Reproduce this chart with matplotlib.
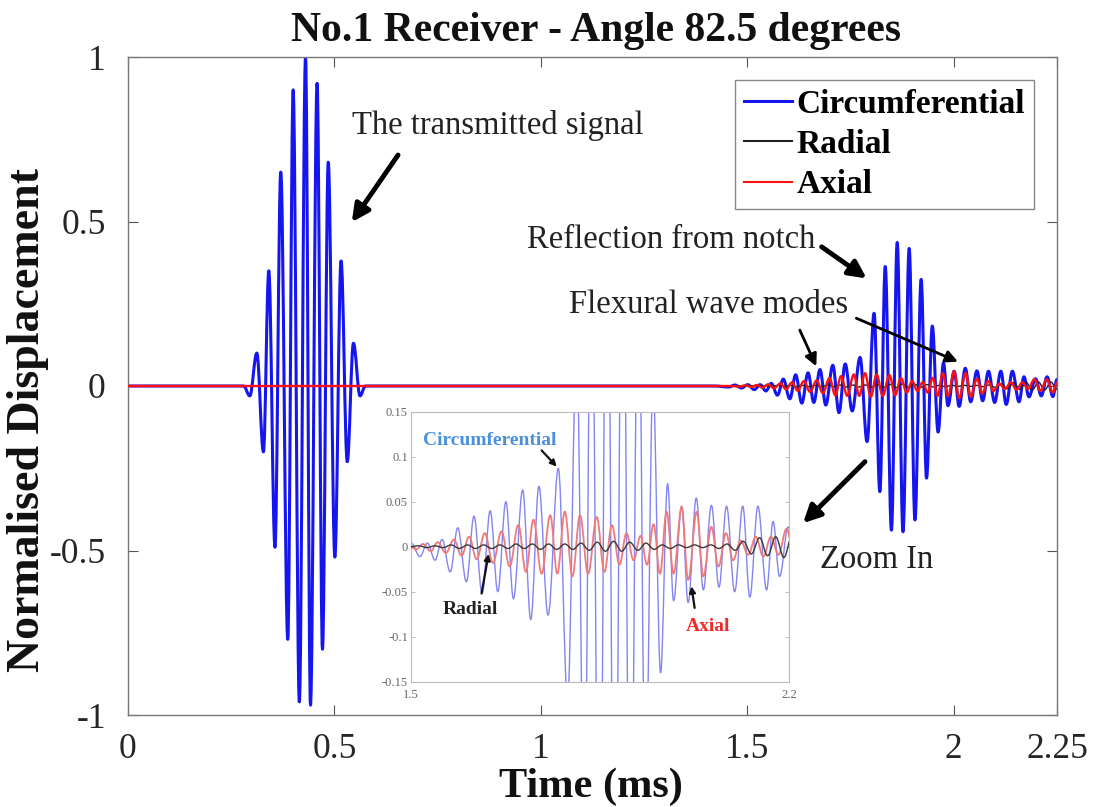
import matplotlib
matplotlib.use("Agg")
import matplotlib.pyplot as plt
from matplotlib.path import Path
from matplotlib.patches import PathPatch
from matplotlib.lines import Line2D

plt.rcParams['font.family'] = ['Liberation Serif', 'DejaVu Serif']

# ---------------- data (extremes of each trace) -------------
t_circ = [0.0, 0.280, 0.295, 0.312, 0.328, 0.341, 0.356, 0.370, 0.387, 0.400, 0.415,
          0.430, 0.442, 0.458, 0.471, 0.485, 0.501, 0.516, 0.531, 0.546, 0.562, 0.575,
          1.420, 1.455, 1.470, 1.486, 1.501, 1.517, 1.531, 1.545, 1.558, 1.573,
          1.587, 1.603, 1.617, 1.632, 1.647, 1.661, 1.676, 1.690, 1.707, 1.722,
          1.737, 1.754, 1.773, 1.790, 1.807, 1.821, 1.834, 1.849, 1.863, 1.877,
          1.892, 1.906, 1.921, 1.934, 1.948, 1.962, 1.975, 1.986, 2.001, 2.013,
          2.028, 2.041, 2.056, 2.070, 2.084, 2.099, 2.114, 2.127, 2.142, 2.158,
          2.170, 2.182, 2.198, 2.212, 2.226, 2.240, 2.250]
v_circ = [0, 0, -0.03, 0.10, -0.20, 0.35, -0.49, 0.65, -0.77, 0.90, -0.96,
          1.00, -0.97, 0.92, -0.80, 0.68, -0.52, 0.38, -0.23, 0.13, -0.03, 0,
          0, -0.003, 0.003, -0.006, 0.004, -0.011, 0.004, -0.015, 0.008, -0.028,
          0.021, -0.039, 0.034, -0.052, 0.040, -0.050, 0.050, -0.058, 0.063, -0.081,
          0.067, -0.076, 0.087, -0.169, 0.221, -0.321, 0.363, -0.438, 0.436, -0.443,
          0.418, -0.407, 0.324, -0.280, 0.182, -0.140, 0.070, -0.060, 0.045, -0.062,
          0.054, -0.048, 0.046, -0.045, 0.045, -0.050, 0.045, -0.056, 0.045, -0.048,
          0.028, -0.033, 0.022, -0.030, 0.028, -0.032, 0.020]

t_axial = [0.0, 1.460, 1.480, 1.495, 1.510, 1.523, 1.537, 1.550, 1.565, 1.580,
           1.594, 1.608, 1.622, 1.637, 1.652, 1.668, 1.683, 1.699, 1.713, 1.727,
           1.742, 1.758, 1.771, 1.785, 1.799, 1.813, 1.828, 1.844, 1.858, 1.872,
           1.886, 1.899, 1.912, 1.925, 1.937, 1.949, 1.961, 1.973, 1.986, 2.001,
           2.013, 2.029, 2.041, 2.056, 2.069, 2.083, 2.096, 2.110, 2.124, 2.138,
           2.152, 2.166, 2.180, 2.195, 2.210, 2.225, 2.240, 2.250]
v_axial = [0, 0, -0.002, 0.002, -0.003, 0.003, -0.005, 0.005, -0.007, 0.008,
           -0.010, 0.011, -0.014, 0.015, -0.018, 0.017, -0.022, 0.024, -0.028, 0.030,
           -0.030, 0.035, -0.030, 0.039, -0.033, 0.035, -0.030, 0.033, -0.028, 0.024,
           -0.020, 0.015, -0.015, 0.012, -0.020, 0.025, -0.030, 0.039, -0.030, 0.044,
           -0.037, 0.039, -0.033, 0.022, -0.022, 0.015, -0.015, 0.007, -0.009, 0.011,
           -0.011, 0.011, -0.009, 0.020, -0.015, 0.020, -0.020, 0.010]

t_radial = [0.0, 1.500, 1.515, 1.530, 1.545, 1.560, 1.575, 1.590, 1.605, 1.620,
            1.635, 1.650, 1.665, 1.680, 1.695, 1.710, 1.725, 1.740, 1.755, 1.770,
            1.785, 1.800, 1.815, 1.830, 1.845, 1.860, 1.875, 1.890, 1.905, 1.920,
            1.935, 1.950, 1.965, 1.980, 1.995, 2.010, 2.025, 2.040, 2.055, 2.070,
            2.085, 2.100, 2.115, 2.130, 2.145, 2.160, 2.175, 2.190, 2.205, 2.220,
            2.235, 2.250]
v_radial = [0, 0, 0.001, -0.001, 0.001, -0.001, 0.002, -0.002, 0.002, -0.002,
            0.002, -0.002, 0.002, -0.002, 0.003, -0.002, 0.003, -0.003, 0.003, -0.003,
            0.003, -0.003, 0.004, -0.004, 0.005, -0.005, 0.006, -0.005, 0.005, -0.004,
            0.004, -0.003, 0.002, -0.002, 0.002, -0.001, 0.002, -0.001, 0.002, -0.002,
            0.003, -0.004, 0.006, -0.008, 0.010, -0.010, 0.011, -0.012, 0.012, -0.012,
            0.012, -0.010]

series_names = ['Circumferential', 'Radial', 'Axial']
x_ticks = [0, 0.5, 1, 1.5, 2, 2.25]
x_tick_labels = ['0', '0.5', '1', '1.5', '2', '2.25']
y_ticks = [-1, -0.5, 0, 0.5, 1]
y_tick_labels = ['-1', '-0.5', '0', '0.5', '1']
inset_y_ticks = [-0.15, -0.1, -0.05, 0, 0.05, 0.1, 0.15]
inset_y_labels = ['-0.15', '-0.1', '-0.05', '0', '0.05', '0.1', '0.15']
inset_x_ticks = [1.5, 2.2]
inset_x_labels = ['1.5', '2.2']


def wave_path(ts, vs, k=0.37):
    verts = [(ts[0], vs[0])]
    codes = [Path.MOVETO]
    for i in range(1, len(ts)):
        d = ts[i] - ts[i - 1]
        verts += [(ts[i - 1] + k * d, vs[i - 1]), (ts[i] - k * d, vs[i]), (ts[i], vs[i])]
        codes += [Path.CURVE4] * 3
    return Path(verts, codes)


def draw_wave(ax, ts, vs, color, lw, z):
    p = PathPatch(wave_path(ts, vs), fill=False, edgecolor=color, lw=lw, zorder=z,
                  joinstyle='round', capstyle='round')
    ax.add_patch(p)


W, H = 1096, 807
fig = plt.figure(figsize=(W / 100, H / 100), dpi=100)
ax = fig.add_axes([128 / W, 1 - 715 / H, (1057 - 128) / W, (715 - 57) / H])

BLUE, BLACK, RED = '#1515f0', '#222222', '#ff1010'
draw_wave(ax, t_circ, v_circ, BLUE, 2.2, 2)
draw_wave(ax, t_radial, v_radial, BLACK, 1.0, 3)
draw_wave(ax, t_axial, v_axial, RED, 1.7, 4)

ax.set_xlim(0, 2.25)
ax.set_ylim(-1, 1)
ax.set_xticks(x_ticks)
ax.set_xticklabels(x_tick_labels)
ax.set_yticks(y_ticks)
ax.set_yticklabels(y_tick_labels)
ax.tick_params(direction='in', length=7, width=0.8, top=True, right=True,
               labelsize=25.5, colors='#555555', labelcolor='#262626')
ax.tick_params(axis='x', pad=13)
ax.tick_params(axis='y', pad=16)
for s in ax.spines.values():
    s.set_color('#777777')
    s.set_linewidth(1.0)

fig.text(596 / W, 1 - 31 / H, 'No.1 Receiver - Angle 82.5 degrees', ha='center', va='center',
         fontsize=30, fontweight='bold', color='#111111')
fig.text(591 / W, 1 - 787 / H, 'Time (ms)', ha='center', va='center',
         fontsize=30.5, fontweight='bold', color='#111111')
fig.text(28 / W, 1 - 420 / H, 'Normalised Displacement', ha='center', va='center',
         rotation=90, fontsize=33, fontweight='bold', color='#111111')

handles = [Line2D([], [], color=BLUE, lw=2.2), Line2D([], [], color=BLACK, lw=1.5),
           Line2D([], [], color=RED, lw=1.5)]
leg = ax.legend(handles, series_names, loc='upper right', fancybox=False,
                prop=dict(family='Liberation Serif', weight='bold', size=24),
                handlelength=1.45, handletextpad=0.15, labelspacing=0.28,
                borderpad=0.25, borderaxespad=0.7, framealpha=1)
leg.get_frame().set_edgecolor('#888888')
leg.get_frame().set_linewidth(1.0)

txt_kw = dict(fontsize=23.5, color='#222222', ha='center', va='center')
thick = dict(arrowstyle='-|>', lw=3.5, color='black', mutation_scale=26, shrinkA=0, shrinkB=0)
thin = dict(arrowstyle='-|>', lw=2.0, color='black', mutation_scale=18, shrinkA=0, shrinkB=0)
ax.text(0.895, 0.793, 'The transmitted signal', **txt_kw)
ax.annotate('', xy=(0.542, 0.498), xytext=(0.654, 0.702), arrowprops=thick)
ax.text(1.315, 0.444, 'Reflection from notch', **txt_kw)
ax.annotate('', xy=(1.789, 0.327), xytext=(1.680, 0.423), arrowprops=thick)
ax.text(1.405, 0.246, 'Flexural wave modes', **txt_kw)
ax.annotate('', xy=(1.667, 0.060), xytext=(1.627, 0.170), arrowprops=thin)
ax.annotate('', xy=(2.010, 0.074), xytext=(1.764, 0.206), arrowprops=thin)
ax.text(1.814, -0.529, 'Zoom In', **txt_kw)
ax.annotate('', xy=(1.635, -0.417), xytext=(1.785, -0.230), arrowprops=thick)

# ---------------- inset ----------------
axi = fig.add_axes([410.7 / W, 1 - 681.7 / H, (789.3 - 410.7) / W, 270 / H])
draw_wave(axi, t_circ, v_circ, '#8484f2', 1.0, 2)
draw_wave(axi, t_axial, v_axial, '#f07a7a', 1.3, 3)
draw_wave(axi, t_radial, v_radial, '#3a3a3a', 1.0, 4)
axi.set_xlim(1.5, 2.2)
axi.set_ylim(-0.15, 0.15)
axi.set_xticks(inset_x_ticks)
axi.set_xticklabels(inset_x_labels)
axi.set_yticks(inset_y_ticks)
axi.set_yticklabels(inset_y_labels)
axi.tick_params(direction='in', length=3, width=0.5, top=True, right=True,
                labelsize=9, colors='#aaaaaa', labelcolor='#666666', pad=2)
axi.tick_params(axis='x', pad=5)
for s in axi.spines.values():
    s.set_color('#bbbbbb')
    s.set_linewidth(0.8)

ikw = dict(fontsize=14, fontweight='bold', ha='center', va='center')
ia = dict(arrowstyle='-|>', lw=1.6, color='#111111', mutation_scale=9, shrinkA=0, shrinkB=0)
axi.text(1.647, 0.118, 'Circumferential', color='#4a90dc', **ikw)
axi.annotate('', xy=(1.770, 0.089), xytext=(1.742, 0.107), arrowprops=ia)
axi.text(1.610, -0.070, 'Radial', color='#222222', **ikw)
axi.annotate('', xy=(1.644, -0.008), xytext=(1.631, -0.052), arrowprops=ia)
axi.text(2.050, -0.089, 'Axial', color='#ee2a2a', **ikw)
axi.annotate('', xy=(2.019, -0.044), xytext=(2.025, -0.068), arrowprops=ia)

fig.savefig('out.png', dpi=100)
